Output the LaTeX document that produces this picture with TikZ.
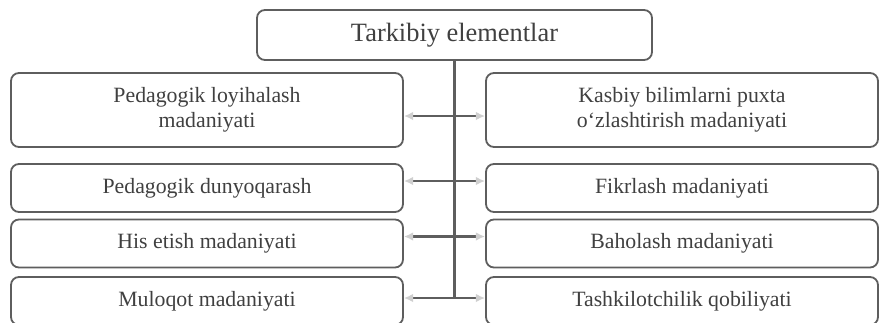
\documentclass[tikz,border=0pt]{standalone}
\usepackage{fontspec}
\setmainfont{Liberation Serif}
\usetikzlibrary{arrows.meta,calc,positioning}
\definecolor{ChartLine}{HTML}{5E5E5E}
\definecolor{ChartText}{HTML}{404040}
\definecolor{ChartTip}{HTML}{CFCFCF}

\begin{document}
\begin{tikzpicture}[
    x=0.5pt,y=-0.5pt,
    elembox/.style={
      draw=ChartLine,
      line width=0.9pt,
      rounded corners=4pt,
      text=ChartText,
      align=center,
      inner sep=0pt,
      minimum width=196pt,
      minimum height=24pt,
      font=\fontsize{10.9}{12.4}\selectfont
    },
    link/.style={
      ChartLine,
      line width=1.2pt,
      {Latex[length=1.6mm,width=1.5mm,color=ChartTip]}-{Latex[length=1.6mm,width=1.5mm,color=ChartTip]}
    },
    spine/.style={ChartLine,line width=1.2pt}
  ]

    \useasboundingbox (0,0) rectangle (879,322);

    \node[
      elembox,
      minimum width=197.5pt,
      minimum height=25pt,
      font=\fontsize{13.2}{15}\selectfont
    ]
      (title) at (454.5,35)
      {Tarkibiy elementlar};

    % left column
    \node[elembox,minimum height=37pt] (l1) at (207,110)
      {Pedagogik loyihalash\\madaniyati};
    \node[elembox] (l2) at (207,188) {Pedagogik dunyoqarash};
    \node[elembox] (l3) at (207,243.5) {His etish madaniyati};
    \node[elembox] (l4) at (207,301) {Muloqot madaniyati};

    % right column
    \node[elembox,minimum height=37pt] (r1) at (682,110)
      {Kasbiy bilimlarni puxta\\o‘zlashtirish madaniyati};
    \node[elembox] (r2) at (682,188) {Fikrlash madaniyati};
    \node[elembox] (r3) at (682,243.5) {Baholash madaniyati};
    \node[elembox] (r4) at (682,301) {Tashkilotchilik qobiliyati};

    \coordinate (spineend) at (454.5,298);
    \draw[spine] (title.south) -- (spineend);

    \foreach \row/\shift in {1/-3pt,2/3.5pt,3/3.5pt,4/1.5pt}{
      \draw[link]
        ([yshift=\shift]l\row.east) -- ([yshift=\shift]r\row.west);
    }

  \end{tikzpicture}
\end{document}
